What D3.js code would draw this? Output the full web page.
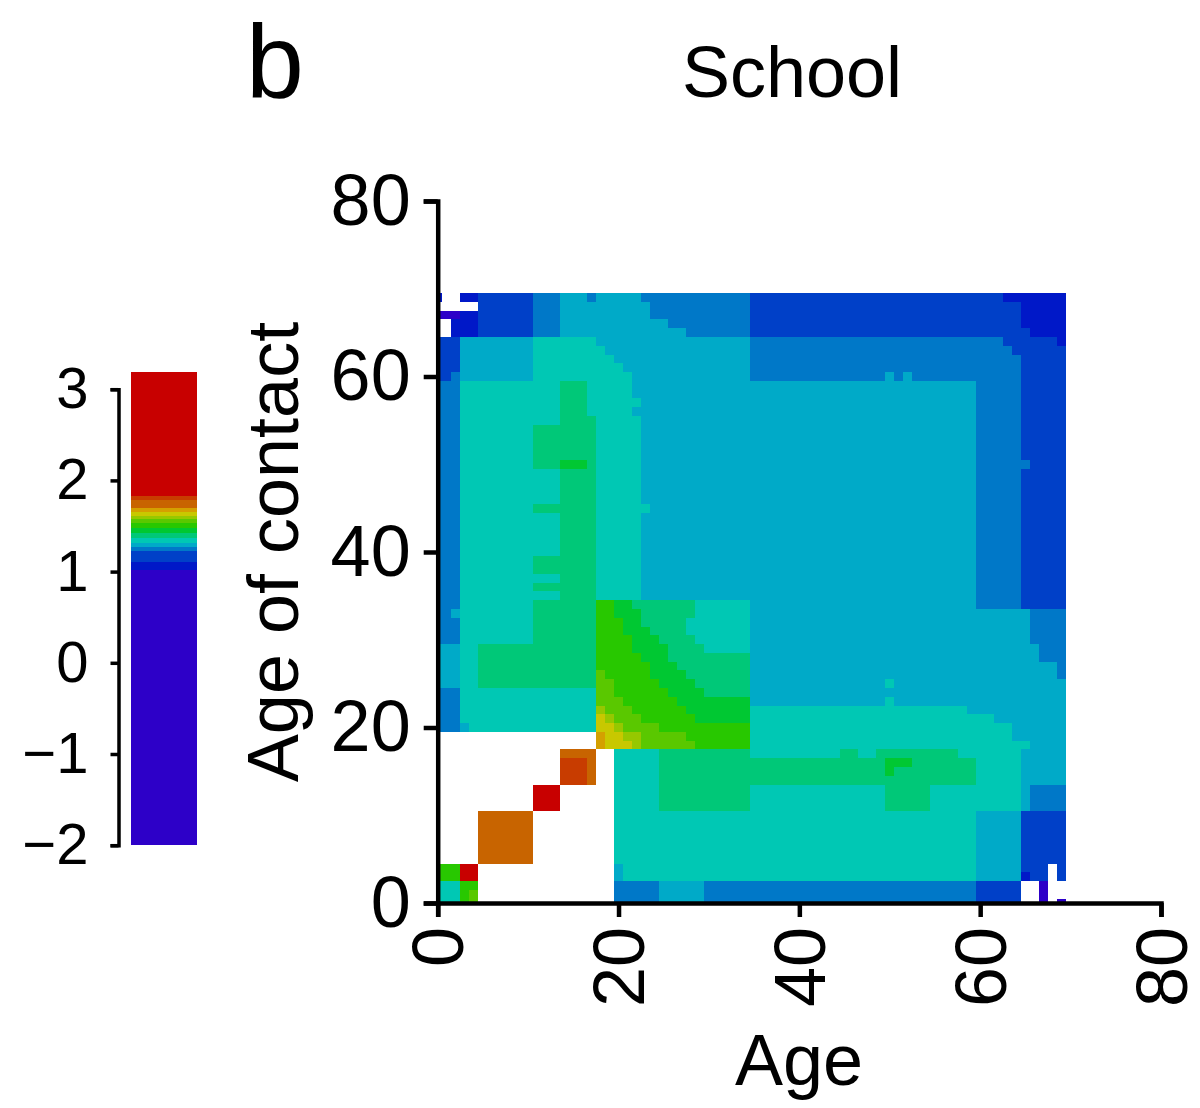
<!DOCTYPE html>
<html><head><meta charset="utf-8">
<script src="https://cdn.jsdelivr.net/npm/d3@7"></script>
<style>body{margin:0;background:#fff} svg{display:block}</style>
</head><body>
<svg id="chart" width="1200" height="1108"></svg>
<script>
// ---- data ----
const axisTicks = [0, 20, 40, 60, 80];
const colorbarTicks = [-2, -1, 0, 1, 2, 3];
const colorbarMax = 3.19;
const colorBreaks = [1.02, 1.10, 1.23, 1.27, 1.31, 1.37, 1.42, 1.48, 1.53, 1.58, 1.61, 1.65, 1.70, 1.78, 1.83];
const colorBands = ["#2d00c8","#0018c8","#0040c8","#0078c8","#00aac8","#00c8b4","#00c878","#00c832","#28c800","#5ac800","#96c800","#c8c800","#d4a000","#c86400","#c83c00","#c80000"];
// level code -> representative log contact value ('.' = no data)
const levelCodes  = ["P","D","B","M","C","T","G","H","L","Y","K","Q","o","O","r","R"];
const levelValues = [0.5,1.06,1.15,1.25,1.29,1.34,1.40,1.45,1.50,1.55,1.60,1.63,1.67,1.74,1.80,2.5];
// one entry per age of contact, 69 down to 0; runs (code + count) across age 0..69
const matrixRuns = [
 "D1.2D2B6M3C3M1C5M12B28D7",          // 69
 ".5B6M3C10M11B30D5",                 // 68
 "P3D2B6M3C10M11B30D5",               // 67
 ".2D3B6M3C12M9B30D5",                // 66
 ".2D3B6M3C14M7B31D4",                // 65
 "B3C8T7C17M28B6D1",                  // 64
 "B3C8T8C16M29B6",                    // 63
 "B3C8T9C15M30B5",                    // 62
 "B3C8T10C14M30B5",                   // 61
 "B2M1C8T11C13M15C1M1C1M12B5",        // 60
 "M3T11G3T5C38M5B5",                  // 59
 "M3T11G3T5C38M5B5",                  // 58
 "M3T11G3T6C37M5B5",                  // 57
 "M3T11G3T5C38M5B5",                  // 56
 "M3T11G4T5C37M5B5",                  // 55
 "M3T8G7T5C37M5B5",                   // 54
 "M3T8G7T5C37M5B5",                   // 53
 "M3T8G7T5C37M5B5",                   // 52
 "M3T8G7T5C37M5B5",                   // 51
 "M3T8G3H3G1T5C37M6B4",               // 50
 "M3T11G4T5C37M5B5",                  // 49
 "M3T11G4T5C37M5B5",                  // 48
 "M3T11G4T5C37M5B5",                  // 47
 "M3T11G4T5C37M5B5",                  // 46
 "M3T8G7T6C36M5B5",                   // 45
 "M3T11G4T5C37M5B5",                  // 44
 "M3T11G4T5C37M5B5",                  // 43
 "M3T11G4T5C37M5B5",                  // 42
 "M3T11G4T5C37M5B5",                  // 41
 "M3T11G4T5C37M5B5",                  // 40
 "M3T8G7T5C37M5B5",                   // 39
 "M3T8G7T5C37M5B5",                   // 38
 "M3T11G4T5C37M5B5",                  // 37
 "M3T8G7T5C37M5B5",                   // 36
 "M3T11G4T5C37M5B5",                  // 35
 "M3T8G7L2H2G7T6C25M5B5",             // 34
 "M2C1T8G7L2H3G6T6C31M4",             // 33
 "M3T8G7L3H2G5T7C31M4",               // 32
 "M3T8G7L3H3G4T7C31M4",               // 31
 "M3T8G7L4H3G4T6C31M4",               // 30
 "C3T2G13L4H4G4T5C32M3",              // 29
 "C3T2G13L5H3G9C32M3",                // 28
 "C3T2G13L6H3G8C34M1",                // 27
 "C3T2G13Y1L5H4G7C34M1",              // 26
 "C3T2G13Y2L5H4G6C15T1C19",           // 25
 "M3T15Y2L6H4G5C35",                  // 24
 "M3T15Y3L6H8C15T1C19",               // 23
 "M3T15K1Y3L6H7T24C11",               // 22
 "M3T15Q1K1Y3L6H6T27C8",              // 21
 "M3C1T14Q2K1Y4L10T29C6",             // 20
 ".18o1Q2K2Y5L7T29C6",                // 19
 ".18o1Q3K1Y6L6T31C4",                // 18
 ".14O4.2T5G10T10G2T2G9T7C5",         // 17
 ".14r3O1.2T5G10G15H3G7T5C5",         // 16
 ".14r3O1.2T5G10G15H1G9T5C5",         // 15
 ".14r3O1.2T5G10G25T5C5",             // 14
 ".11R3.6T5G10T15G5T10C1M4",          // 13
 ".11R3.6T5G10T15G5T10C1M4",          // 12
 ".11R3.6T5G10T15G5T10C1M4",          // 11
 ".5O6.9T40C5B5",                     // 10
 ".5O6.9T40C5B5",                     // 9
 ".5O6.9T40C5B5",                     // 8
 ".5O6.9T40C5B5",                     // 7
 ".5O6.9T40C5B5",                     // 6
 ".5O6.9T40C5B5",                     // 5
 "L3R2.15C1T39C5B3.1B1",              // 4
 "L3R2.15C1T39C5D1B2.1B1",            // 3
 "T3L2.15M5C5M30B5.2P1.2",            // 2
 "T3L1Y1.15M5C5M30B5.2P1.2",          // 1
 "T3L1Y1.15M5C5M30B5.2P1.1P1"         // 0
];

// ---- chart ----
const FONT = '"Liberation Sans", Arial, Helvetica, sans-serif';
const svg = d3.select("#chart").style("font-family", FONT);
const x = d3.scaleLinear().domain([0, 80]).range([437.7, 1161]);
const y = d3.scaleLinear().domain([0, 80]).range([903, 201]);
const color = d3.scaleThreshold().domain(colorBreaks).range(colorBands);
const codeValue = new Map(levelCodes.map((c, i) => [c, levelValues[i]]));

const cells = [];
matrixRuns.forEach((runs, k) => {
  const contact = 69 - k;
  let age = 0;
  for (const m of runs.matchAll(/([A-Za-z.])(\d+)/g)) {
    const n = +m[2];
    for (let i = 0; i < n; i++, age++) {
      if (m[1] !== ".") cells.push({ age, contact, value: codeValue.get(m[1]) });
    }
  }
  if (age !== 70) console.error("row", contact, "has", age, "cells");
});

svg.append("g").selectAll("rect").data(cells).join("rect")
  .attr("x", d => x(Math.max(0, d.age - 0.5)))
  .attr("width", d => x(d.age + 0.5) - x(Math.max(0, d.age - 0.5)))
  .attr("y", d => y(d.contact + 0.5))
  .attr("height", d => y(Math.max(0, d.contact - 0.5)) - y(d.contact + 0.5))
  .attr("fill", d => color(d.value))
  .attr("shape-rendering", "crispEdges");

// axes
const gx = svg.append("g").attr("transform", "translate(0,903)")
  .call(d3.axisBottom(x).tickValues(axisTicks).tickSize(14).tickSizeOuter(14).tickFormat(d3.format("d")));
const gy = svg.append("g").attr("transform", "translate(437.7,0)")
  .call(d3.axisLeft(y).tickValues(axisTicks).tickSize(14).tickSizeOuter(14).tickPadding(13).tickFormat(d3.format("d")));
[gx, gy].forEach(g => {
  g.attr("font-family", FONT).attr("font-size", 72);
  g.selectAll("path, line").attr("stroke", "#000").attr("stroke-width", 4.5);
});
gx.selectAll("text")
  .attr("transform", "rotate(-90)")
  .attr("x", -24).attr("y", 0).attr("dy", "0.35em")
  .attr("text-anchor", "end");

svg.append("text").attr("x", 799).attr("y", 1085).attr("text-anchor", "middle")
  .attr("font-size", 72).text("Age");
svg.append("text").attr("transform", "translate(298,552) rotate(-90)")
  .attr("text-anchor", "middle").attr("font-size", 72).text("Age of contact");
svg.append("text").attr("x", 792).attr("y", 97).attr("text-anchor", "middle")
  .attr("font-size", 72).text("School");
svg.append("text").attr("x", 246).attr("y", 97).attr("font-size", 104).text("b");

// colour bar
const cb = d3.scaleLinear().domain([-2, 3]).range([845.2, 389.2]);
const lows = [-2].concat(colorBreaks), highs = colorBreaks.concat([colorbarMax]);
const bands = colorBands.map((c, i) => ({ c, lo: Math.max(-2, lows[i]), hi: Math.min(colorbarMax, highs[i]) }))
  .filter(b => b.hi > b.lo);
svg.append("g").selectAll("rect").data(bands).join("rect")
  .attr("x", 131).attr("width", 66)
  .attr("y", d => cb(d.hi)).attr("height", d => cb(d.lo) - cb(d.hi))
  .attr("fill", d => d.c).attr("shape-rendering", "crispEdges");
const gc = svg.append("g").attr("transform", "translate(118.5,0)")
  .call(d3.axisLeft(cb).tickValues(colorbarTicks).tickSize(8).tickSizeOuter(8).tickPadding(22).tickFormat(d3.format("d")));
gc.attr("font-family", FONT).attr("font-size", 58);
gc.selectAll("path, line").attr("stroke", "#000").attr("stroke-width", 3.5);
</script>
</body></html>
